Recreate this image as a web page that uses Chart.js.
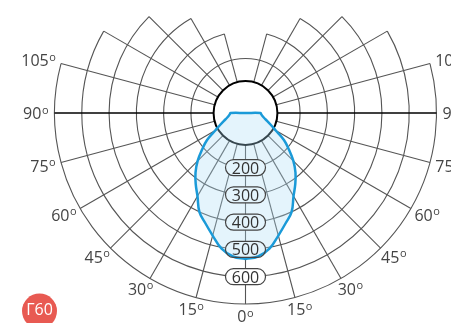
<!DOCTYPE html>
<html>
<head>
<meta charset="utf-8">
<script src="https://cdn.jsdelivr.net/npm/chart.js@4.4.0/dist/chart.umd.min.js"></script>
<style>
html, body { margin: 0; padding: 0; background: #fff; }
#wrap { width: 451px; height: 323px; position: relative; }
</style>
</head>
<body>
<div id="wrap"><canvas id="chart"></canvas></div>
<script>
// light intensity curve, cd (symmetric, 0° = down)
const angles = [0, 5, 10, 15, 20, 25, 30, 35, 40, 45, 50, 55, 60, 65, 70, 75, 80, 85, 90];
const intensity = [535, 528, 505, 465, 430, 400, 352, 318, 285, 248, 207, 172, 128, 102, 84, 71, 63, 58, 55];

const ringValues = [200, 300, 400, 500, 600, 700];
const ringSpan = [180, 165, 150, 135, 120, 105];
const ringLabels = ["200", "300", "400", "500", "600"];
const spokeAngles = [0, 15, 30, 45, 60, 75, 90, 105, 120, 135, 150, 165];
const labelAngles = [0, 15, 30, 45, 60, 75, 90, 105];
const angleLabels = ["0", "15", "30", "45", "60", "75", "90", "105"];
const badgeText = "Г60";

const holeValue = 117;

// pixels per unit so that the 700 ring has radius 191 around (245.5, 113)
const k = 700 / 191;
const W = 451, H = 323, CX = 245.5, CY = 113;

const toXY = (deg, v) => ({
    x: v * Math.sin(deg * Math.PI / 180),
    y: -v * Math.cos(deg * Math.PI / 180)
});
const right = angles.map((a, i) => toXY(a, intensity[i]));
const left = angles.map((a, i) => toXY(-a, intensity[i])).reverse();
const curve = [...right, { x: 0, y: 0 }, ...left];

const FONT = '"Open Sans", "DejaVu Sans", sans-serif';
const GRID = '#555';

const pill = (ctx, x, y, w, h, r) => {
    ctx.beginPath();
    ctx.moveTo(x - w / 2 + r, y - h / 2);
    ctx.lineTo(x + w / 2 - r, y - h / 2);
    ctx.arc(x + w / 2 - r, y, r, -Math.PI / 2, Math.PI / 2);
    ctx.lineTo(x - w / 2 + r, y + h / 2);
    ctx.arc(x - w / 2 + r, y, r, Math.PI / 2, Math.PI * 1.5);
    ctx.closePath();
};

const polarGrid = {
    id: 'polarGrid',
    beforeDatasetsDraw(chart) {
        const { ctx, scales: { x, y } } = chart;
        const cx = x.getPixelForValue(0), cy = y.getPixelForValue(0);
        const rad = v => x.getPixelForValue(v) - cx;
        ctx.save();
        ctx.strokeStyle = GRID;
        ctx.lineWidth = 1.1;
        ringValues.forEach((v, i) => {
            const span = ringSpan[i] * Math.PI / 180;
            ctx.beginPath();
            ctx.arc(cx, cy, rad(v), Math.PI / 2 - span, Math.PI / 2 + span);
            ctx.stroke();
        });
        spokeAngles.forEach(a => {
            const reach = ringValues.filter((v, i) => ringSpan[i] >= a).pop();
            const sides = a === 0 ? [0] : [a, -a];
            sides.forEach(s => {
                const p0 = toXY(s, holeValue), p1 = toXY(s, reach);
                ctx.beginPath();
                ctx.strokeStyle = a === 90 ? '#000' : GRID;
                ctx.lineWidth = a === 90 ? 1.6 : 1.1;
                ctx.moveTo(x.getPixelForValue(p0.x), y.getPixelForValue(p0.y));
                ctx.lineTo(x.getPixelForValue(p1.x), y.getPixelForValue(p1.y));
                ctx.stroke();
            });
        });
        // hole in the middle
        ctx.beginPath();
        ctx.arc(cx, cy, rad(holeValue), 0, Math.PI * 2);
        ctx.fillStyle = '#fff';
        ctx.fill();
        ctx.strokeStyle = '#000';
        ctx.lineWidth = 2;
        ctx.stroke();
        // label backgrounds
        ringLabels.forEach((t, i) => {
            const py = y.getPixelForValue(-ringValues[i]);
            pill(ctx, cx, py, 40, 16, 8);
            ctx.fillStyle = '#fff';
            ctx.fill();
        });
        ctx.restore();
    },
    afterDatasetsDraw(chart) {
        const { ctx, scales: { x, y } } = chart;
        const cx = x.getPixelForValue(0), cy = y.getPixelForValue(0);
        const outer = x.getPixelForValue(ringValues[ringValues.length - 1]) - cx;
        ctx.save();
        ringLabels.forEach((t, i) => {
            const py = y.getPixelForValue(-ringValues[i]);
            pill(ctx, cx, py, 40, 16, 8);
            ctx.strokeStyle = '#444';
            ctx.lineWidth = 1.2;
            ctx.stroke();
            ctx.fillStyle = '#333';
            ctx.font = '16px ' + FONT;
            ctx.textAlign = 'center';
            ctx.textBaseline = 'alphabetic';
            ctx.fillText(t, cx, py + 6);
        });
        // angle labels sit just outside the outer ring, like point labels
        const gap = 6, th = 12;
        labelAngles.forEach((a, i) => {
            const sides = a === 0 ? [0] : [-a, a];
            sides.forEach(s => {
                const rs = s * Math.PI / 180;
                const dx = Math.sin(rs), dy = Math.cos(rs);
                ctx.font = '16px ' + FONT;
                const w1 = ctx.measureText(angleLabels[i]).width;
                ctx.font = '11px ' + FONT;
                const w2 = ctx.measureText('o').width;
                const tw = w1 + w2 + 0.5;
                const px = cx + dx * (outer + gap) + dx * tw / 2;
                const py = cy + dy * (outer + gap) + dy * th / 2;
                const x0 = px - tw / 2;
                ctx.fillStyle = '#444';
                ctx.textAlign = 'left';
                ctx.textBaseline = 'alphabetic';
                ctx.font = '16px ' + FONT;
                ctx.fillText(angleLabels[i], x0, py + 6);
                ctx.font = '11px ' + FONT;
                ctx.fillText('o', x0 + w1 + 0.5, py + 0.5);
            });
        });
        // badge
        ctx.beginPath();
        ctx.arc(39.5, 311, 17.5, 0, Math.PI * 2);
        ctx.fillStyle = '#e85a52';
        ctx.fill();
        ctx.fillStyle = '#fff';
        ctx.font = '16px ' + FONT;
        ctx.textAlign = 'center';
        ctx.textBaseline = 'alphabetic';
        ctx.fillText(badgeText, 39.5, 315);
        ctx.restore();
    }
};

new Chart(document.getElementById('chart'), {
    type: 'scatter',
    data: {
        datasets: [{
            data: curve,
            showLine: true,
            fill: 'shape',
            borderColor: '#1a9ad8',
            borderWidth: 2.5,
            backgroundColor: 'rgba(170,220,245,0.32)',
            pointRadius: 0,
            tension: 0.4
        }]
    },
    options: {
        responsive: true,
        maintainAspectRatio: false,
        animation: false,
        layout: { padding: 0 },
        plugins: { legend: { display: false }, tooltip: { enabled: false } },
        scales: {
            x: { type: 'linear', display: false, min: -CX * k, max: (W - CX) * k },
            y: { type: 'linear', display: false, min: -(H - CY) * k, max: CY * k }
        }
    },
    plugins: [polarGrid]
});
</script>
</body>
</html>
